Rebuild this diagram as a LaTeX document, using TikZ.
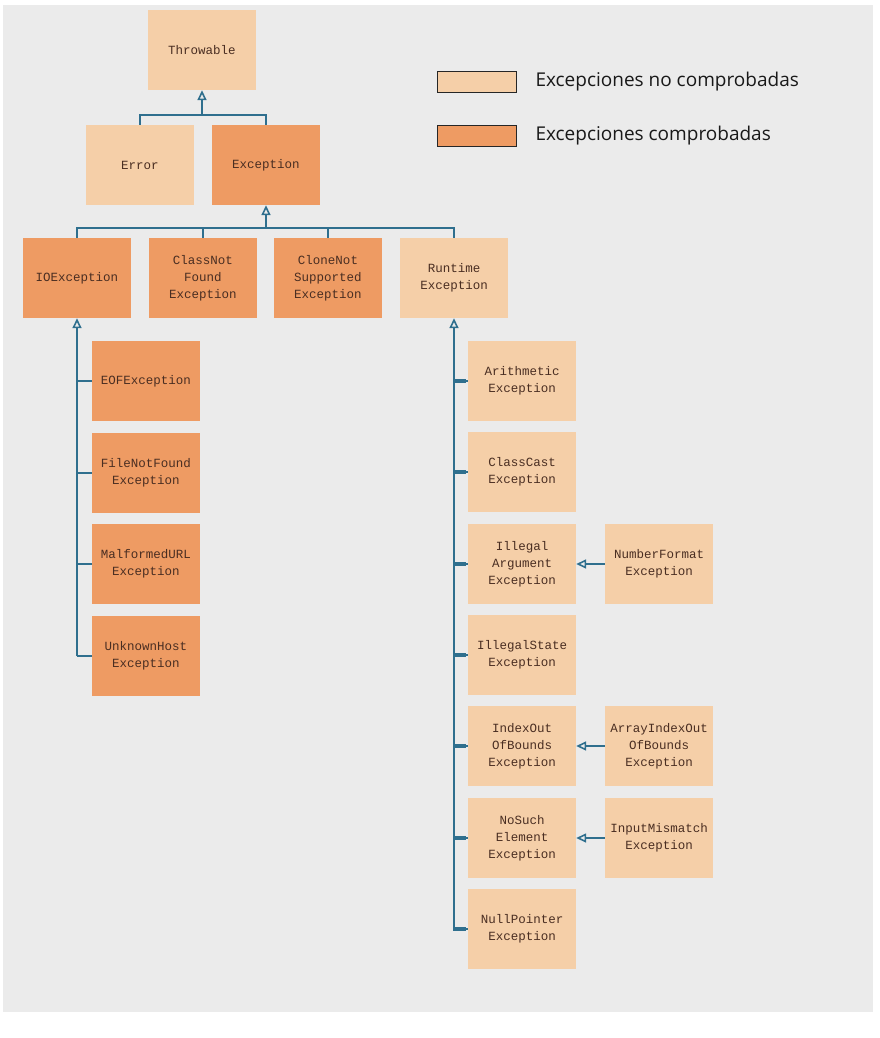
\documentclass[tikz,border=0pt]{standalone}
\usepackage{fontspec}
\setmainfont{Open Sans}
\newfontfamily\boxfont{Liberation Mono}
\usetikzlibrary{arrows.meta}
\definecolor{lightc}{HTML}{F5CFA8}
\definecolor{darkc}{HTML}{EE9B63}
\definecolor{linec}{HTML}{2F6F8E}
\definecolor{txtc}{HTML}{4A2E22}
\definecolor{bgc}{HTML}{EBEBEB}
\tikzset{
  cls/.style={minimum width=108pt,minimum height=80pt,inner sep=0pt,align=center,
    font=\boxfont\fontsize{12.5}{17}\selectfont,text=txtc},
  unchk/.style={cls,fill=lightc},
  chk/.style={cls,fill=darkc},
  conn/.style={draw=linec,line width=2pt},
  stub/.style={draw=linec,line width=3.5pt},
  inh/.style={conn,-{Triangle[open,length=10pt,width=9pt,line width=1.6pt]}},
  legbox/.style={draw=black!85,line width=1.5pt,minimum width=79pt,minimum height=21pt,inner sep=0pt},
  legtxt/.style={anchor=west,font=\fontsize{19}{22}\selectfont,text=black!90}
}
\begin{document}
\begin{tikzpicture}[x=1pt,y=-1pt]
\useasboundingbox (0,0) rectangle (880,1038);
\fill[white] (0,0) rectangle (880,1038);
\fill[bgc] (3,5) rectangle (873,1012);
% nodes
\node[unchk] (thr) at (202,50) {Throwable};
\node[unchk] (err) at (140,165) {Error};
\node[chk] (exc) at (266,165) {Exception};
\node[chk] (io) at (77,278) {IOException};
\node[chk] (cnf) at (203,278) {ClassNot\\Found\\Exception};
\node[chk] (cns) at (328,278) {CloneNot\\Supported\\Exception};
\node[unchk] (rt) at (454,278) {Runtime\\Exception};
\node[chk] (eof) at (146,381) {EOFException};
\node[chk] (fnf) at (146,473) {FileNotFound\\Exception};
\node[chk] (mal) at (146,564) {MalformedURL\\Exception};
\node[chk] (uh) at (146,656) {UnknownHost\\Exception};
\node[unchk] (ar) at (522,381) {Arithmetic\\Exception};
\node[unchk] (cc) at (522,472) {ClassCast\\Exception};
\node[unchk] (ia) at (522,564) {Illegal\\Argument\\Exception};
\node[unchk] (is) at (522,655) {IllegalState\\Exception};
\node[unchk] (ioob) at (522,746) {IndexOut\\OfBounds\\Exception};
\node[unchk] (nse) at (522,838) {NoSuch\\Element\\Exception};
\node[unchk] (np) at (522,929) {NullPointer\\Exception};
\node[unchk] (nf) at (659,564) {NumberFormat\\Exception};
\node[unchk] (aioob) at (659,746) {ArrayIndexOut\\OfBounds\\Exception};
\node[unchk] (im) at (659,838) {InputMismatch\\Exception};
% level 1
\coordinate (j1) at (202,115);
\draw[conn] (err.north) |- (j1) -| (exc.north);
\draw[inh] (j1) -- (thr.south);
% level 2
\coordinate (j2) at (266,228);
\draw[conn] (io.north) |- (j2) -| (rt.north);
\draw[conn] (cnf.north) -- (cnf.north |- j2);
\draw[conn] (cns.north) -- (cns.north |- j2);
\draw[inh] (j2) -- (exc.south);
% IOException children
\coordinate (ioend) at (77,656);
\draw[conn] (ioend) -- ++(0,0);
\draw[inh] (uh.west -| io.south) -- (io.south);
\foreach \n in {eof,fnf,mal,uh}{\draw[conn] (\n.west -| io.south) -- (\n.west);}
% Runtime children
\draw[inh] (np.west -| rt.south) -- (rt.south);
\foreach \n in {ar,cc,ia,is,ioob,nse,np}{
  \draw[conn] (\n.west -| rt.south) -- (\n.west);
  \draw[stub] ([xshift=-1pt]\n.west -| rt.south) -- ++(13,0);
}
% right side
\draw[inh] (nf.west) -- (ia.east);
\draw[inh] (aioob.west) -- (ioob.east);
\draw[inh] (im.west) -- (nse.east);
% legend
\node[legbox,fill=lightc] (l1) at (477,82) {};
\node[legbox,fill=darkc] (l2) at (477,136) {};
\node[legtxt] (t1) at (532,82) {Excepciones no comprobadas};
\node[legtxt] (t2) at (532,136) {Excepciones comprobadas};
\end{tikzpicture}
\end{document}
